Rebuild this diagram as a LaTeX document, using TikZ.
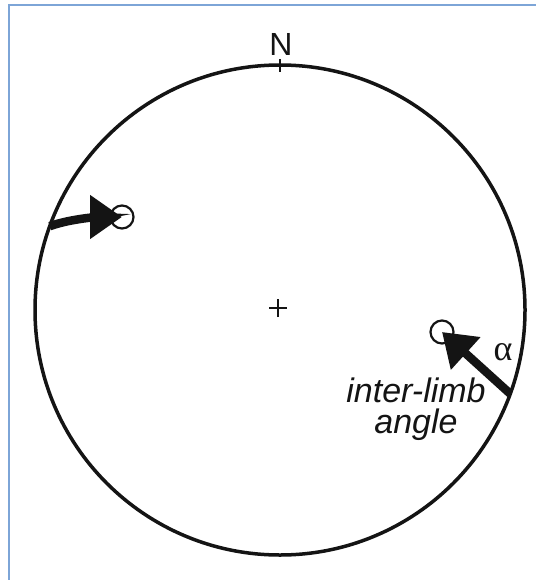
\documentclass[tikz,border=0pt]{standalone}
\usepackage{fontspec}
\setmainfont{Liberation Sans}
\newfontfamily\serifgreek{Liberation Serif}
\usetikzlibrary{arrows.meta}
\definecolor{framecol}{RGB}{125,165,215}
\definecolor{inkcol}{RGB}{20,20,20}
\begin{document}
\begin{tikzpicture}[x=1pt,y=-1pt,
  frameline/.style={draw=framecol,line width=2pt},
  bigcircle/.style={circle,draw=inkcol,line width=3.5pt,minimum size=490pt,inner sep=0pt,outer sep=0pt},
  pole/.style={circle,draw=inkcol,line width=2.2pt,minimum size=23pt,inner sep=0pt},
  shaft/.style={draw=inkcol,line width=8.5pt,-{Triangle[length=32pt,width=42pt]}},
  thin/.style={draw=inkcol,line width=1.5pt},
  label/.style={font=\itshape\fontsize{34}{36}\selectfont,text=inkcol,anchor=base,inner sep=0pt}
]
\fill[white] (0,0) rectangle (536,580);
\useasboundingbox (0,0) rectangle (536,580);
% frame
\coordinate (fa) at (9,580);
\coordinate (fb) at (9,5);
\coordinate (fc) at (536,5);
\draw[frameline] (fa) -- (fb) -- (fc);
% stereonet
\node[bigcircle] (big) at (280,310) {};
\coordinate (ctr) at (278,308);
\draw[thin] ([xshift=-9pt]ctr) -- ([xshift=9pt]ctr);
\draw[thin] ([yshift=-9pt]ctr) -- ([yshift=9pt]ctr);
\draw[thin] (big.north) -- ++(0,-6);
\draw[thin] (big.north) -- ++(0,7);
\node[font=\fontsize{32}{34}\selectfont,text=inkcol,anchor=base,inner sep=0pt] (n) at (281,56) {N};
% poles
\node[pole] (c1) at (122,217) {};
\node[pole] (c2) at (442,332) {};
% arrows
\draw[shaft] (big.160) .. controls +(22,-8) and +(-20,0) .. (c1.center);
\draw[shaft] (big.-20) -- (c2.center);
% labels
\node[font=\serifgreek\fontsize{36}{38}\selectfont,text=inkcol,inner sep=0pt] (alpha) at (503,352) {α};
\node[label] (l1) at (416,402) {inter-limb};
\node[label] (l2) at (416,433) {angle};
\end{tikzpicture}
\end{document}
